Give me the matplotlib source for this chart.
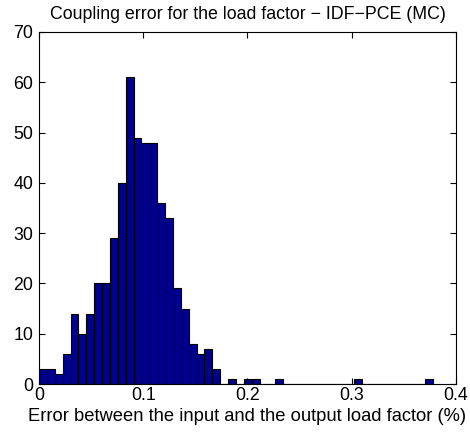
import numpy as np
import matplotlib
matplotlib.use("Agg")
import matplotlib.pyplot as plt

# histogram of 500 MC samples, 50 bins between min and max
counts = [3, 3, 2, 6, 14, 10, 14, 20, 20, 29,
          40, 61, 49, 48, 48, 36, 33, 19, 15, 8,
          6, 7, 3, 0, 1, 0, 1, 1, 0, 0,
          1, 0, 0, 0, 0, 0, 0, 0, 0, 0,
          1, 0, 0, 0, 0, 0, 0, 0, 0, 1]
x_min = 0.0
x_max = 0.378

x_ticks = [0, 0.1, 0.2, 0.3, 0.4]
x_ticklabels = ["0", "0.1", "0.2", "0.3", "0.4"]
y_ticks = [0, 10, 20, 30, 40, 50, 60, 70]

plt.rcParams['font.family'] = ['Liberation Sans', 'DejaVu Sans']

edges = np.linspace(x_min, x_max, len(counts) + 1)
width = edges[1] - edges[0]

fig = plt.figure(figsize=(4.7, 4.32), dpi=100)
ax = fig.add_axes([0.083, 0.111, 0.887, 0.815])

ax.bar(edges[:-1], counts, width=width, align="edge",
       color="#00008f", edgecolor="black", linewidth=0.8)

ax.set_xlim(0, 0.4)
ax.set_ylim(0, 70)
ax.set_xticks(x_ticks)
ax.set_xticklabels(x_ticklabels)
ax.set_yticks(y_ticks)
ax.tick_params(direction="in", top=True, right=True, length=4,
               labelsize=12.8)
ax.tick_params(axis="x", pad=2)
ax.tick_params(axis="y", pad=4)
for s in ax.spines.values():
    s.set_linewidth(0.8)

ax.set_xlabel("Error between the input and the output load factor (%)",
              fontsize=13.2, labelpad=3)
ax.set_title("Coupling error for the load factor \u2212 IDF\u2212PCE (MC)",
             fontsize=12.8, pad=9)

fig.savefig("out.png", dpi=100)
